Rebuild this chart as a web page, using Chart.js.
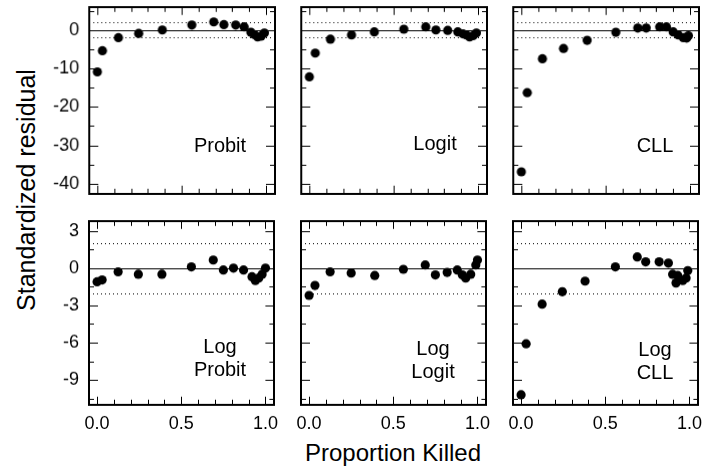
<!DOCTYPE html>
<html>
<head>
<meta charset="utf-8">
<script src="https://cdn.jsdelivr.net/npm/chart.js@4"></script>
<style>
body { margin: 0; background: #fff; width: 728px; height: 474px; position: relative; overflow: hidden; font-family: "Liberation Sans", Arial, sans-serif; }
canvas { position: absolute; }
.lbl { position: absolute; width: 80px; margin-left: -40px; font-size: 20px; line-height: 23px; text-align: center; color: #000; }
#ytitle { position: absolute; left: 26px; top: 190px; font-size: 25px; white-space: nowrap; transform: translate(-50%, -50%) rotate(-90deg); }
#xtitle { position: absolute; left: 393px; top: 453px; font-size: 24px; white-space: nowrap; transform: translate(-50%, -50%); }
</style>
</head>
<body>
<div id="ytitle">Standardized residual</div>
<div id="xtitle">Proportion Killed</div>
<script>
// residuals, one pair of arrays per model
const probitX = [0.0, 0.03, 0.125, 0.245, 0.385, 0.56, 0.69, 0.75, 0.82, 0.87, 0.91, 0.93, 0.95, 0.97, 0.99];
const probitY = [-10.9, -5.4, -2.0, -0.9, 0.0, 1.3, 2.1, 1.4, 1.3, 0.8, -0.6, -1.2, -1.8, -1.6, -0.8];

const logitX = [0.0, 0.035, 0.125, 0.25, 0.385, 0.56, 0.69, 0.75, 0.82, 0.88, 0.91, 0.93, 0.95, 0.97, 0.99];
const logitY = [-12.2, -6.0, -2.4, -1.3, -0.5, 0.2, 0.8, 0.0, -0.1, -0.5, -1.0, -1.3, -1.8, -1.5, -0.8];

const cllX = [0.0, 0.035, 0.125, 0.25, 0.39, 0.56, 0.69, 0.74, 0.82, 0.86, 0.90, 0.93, 0.96, 0.98, 0.99];
const cllY = [-36.9, -16.3, -7.5, -4.8, -2.7, -0.6, 0.5, 0.5, 0.8, 0.8, -0.5, -1.3, -2.0, -2.1, -1.5];

const logProbitX = [0.0, 0.03, 0.125, 0.245, 0.385, 0.56, 0.69, 0.75, 0.81, 0.87, 0.92, 0.94, 0.96, 0.98, 1.0];
const logProbitY = [-1.1, -0.95, -0.3, -0.5, -0.5, 0.1, 0.65, -0.15, 0.0, -0.15, -0.7, -1.0, -0.8, -0.5, 0.0];

const logLogitX = [0.0, 0.035, 0.125, 0.25, 0.39, 0.56, 0.69, 0.75, 0.82, 0.88, 0.91, 0.93, 0.96, 0.99, 1.0];
const logLogitY = [-2.2, -1.4, -0.3, -0.4, -0.6, -0.1, 0.25, -0.55, -0.35, -0.15, -0.55, -0.8, -0.5, 0.25, 0.65];

const logCllX = [0.0, 0.03, 0.125, 0.245, 0.38, 0.56, 0.69, 0.74, 0.82, 0.875, 0.90, 0.92, 0.93, 0.96, 0.98, 0.99];
const logCllY = [-10.2, -6.1, -2.9, -1.9, -1.05, 0.1, 0.9, 0.5, 0.5, 0.4, -0.5, -1.2, -0.6, -1.0, -0.8, -0.2];

const panelNames = ['Probit', 'Logit', 'CLL', 'Log\nProbit', 'Log\nLogit', 'Log\nCLL'];
const panelX = [probitX, logitX, cllX, logProbitX, logLogitX, logCllX];
const panelY = [probitY, logitY, cllY, logProbitY, logLogitY, logCllY];

const refSolid = [0];
const refDotted = [-2, 2];

// layout
const colLeft = [89, 301, 513];
const rowTop = [7, 221];
const panelW = 185;
const panelH = [186, 183];
const yRange = [[-42.6, 6.0], [-11.0, 3.8]];
const yStep = [5, 1.5];
const yLabelEvery = [10, 3];
const padL = 60, padT = 4, padR = 4;
const padB = [4, 34];
const labelPos = [[220, 145], [435, 143], [655, 145], [220, 358], [433, 360], [655, 361]];

const near = (v, m) => Math.abs(v / m - Math.round(v / m)) < 1e-6;
const crisp = p => Math.round(p) + 0.5;

function line(ctx, x1, y1, x2, y2) {
    ctx.beginPath();
    ctx.moveTo(x1, y1);
    ctx.lineTo(x2, y2);
    ctx.stroke();
}

const framePlugin = {
    id: 'frame',
    beforeDatasetsDraw(chart) {
        const { ctx, chartArea: a, scales: { y } } = chart;
        ctx.save();
        ctx.strokeStyle = '#000';
        ctx.lineWidth = 1;
        refSolid.forEach(v => { const py = crisp(y.getPixelForValue(v)); line(ctx, a.left, py, a.right, py); });
        ctx.setLineDash([1, 3]);
        refDotted.forEach(v => { const py = crisp(y.getPixelForValue(v)); line(ctx, a.left, py, a.right, py); });
        ctx.restore();
    },
    afterDraw(chart) {
        const { ctx, chartArea: a, scales: { x, y } } = chart;
        ctx.save();
        ctx.strokeStyle = '#000';
        ctx.lineWidth = 2;
        ctx.strokeRect(Math.round(a.left), Math.round(a.top), Math.round(a.right - a.left), Math.round(a.bottom - a.top));
        ctx.lineWidth = 1;
        x.ticks.forEach(t => {
            const px = crisp(x.getPixelForValue(t.value));
            const len = near(t.value, 0.5) ? 8 : 5;
            line(ctx, px, a.bottom, px, a.bottom - len);
            line(ctx, px, a.top, px, a.top + len);
        });
        y.ticks.forEach(t => {
            const py = crisp(y.getPixelForValue(t.value));
            const len = t.label ? 9 : 5;
            line(ctx, a.left, py, a.left + len, py);
            line(ctx, a.right, py, a.right - len, py);
        });
        ctx.restore();
    }
};

panelNames.forEach((name, i) => {
    const row = Math.floor(i / 3), col = i % 3;
    const cv = document.createElement('canvas');
    const w = padL + panelW + padR;
    const h = padT + panelH[row] + padB[row];
    cv.width = w; cv.height = h;
    cv.style.left = (colLeft[col] - padL) + 'px';
    cv.style.top = (rowTop[row] - padT) + 'px';
    document.body.appendChild(cv);

    const pts = panelX[i].map((v, k) => ({ x: v, y: panelY[i][k] }));

    const chart = new Chart(cv.getContext('2d'), {
        type: 'scatter',
        data: {
            datasets: [{
                data: pts,
                backgroundColor: '#000',
                borderWidth: 0,
                pointRadius: 4.6,
                pointHoverRadius: 4.6
            }]
        },
        options: {
            responsive: false,
            maintainAspectRatio: false,
            animation: false,
            events: [],
            layout: { padding: { top: padT, right: padR, left: 0, bottom: 0 } },
            plugins: { legend: { display: false }, tooltip: { enabled: false } },
            scales: {
                x: {
                    type: 'linear',
                    min: -0.048, max: 1.053,
                    grid: { display: false, drawTicks: false },
                    border: { display: false },
                    ticks: {
                        stepSize: 0.1,
                        autoSkip: false,
                        includeBounds: false,
                        maxRotation: 0,
                        padding: 8,
                        color: '#000',
                        font: { size: 18, family: '"Liberation Sans", Arial, sans-serif' },
                        callback: v => (row === 1 && near(v, 0.5)) ? v.toFixed(1) : ''
                    },
                    afterFit: s => { s.height = padB[row]; }
                },
                y: {
                    type: 'linear',
                    min: yRange[row][0], max: yRange[row][1],
                    grid: { display: false, drawTicks: false },
                    border: { display: false },
                    ticks: {
                        stepSize: yStep[row],
                        autoSkip: false,
                        includeBounds: false,
                        padding: 10,
                        color: '#000',
                        font: { size: 18, family: '"Liberation Sans", Arial, sans-serif' },
                        callback: v => (col === 0 && near(v, yLabelEvery[row])) ? String(Math.round(v)) : (near(v, yLabelEvery[row]) ? ' ' : '')
                    },
                    afterFit: s => { s.width = padL; }
                }
            }
        },
        plugins: [framePlugin]
    });

    // grow the canvas so the plot area has the panel's size, then place it
    const a = chart.chartArea;
    chart.resize(w + panelW - (a.right - a.left), h + panelH[row] - (a.bottom - a.top));
    const b = chart.chartArea;
    cv.style.left = (colLeft[col] - b.left) + 'px';
    cv.style.top = (rowTop[row] - b.top) + 'px';

    const lb = document.createElement('div');
    lb.className = 'lbl';
    lb.style.left = labelPos[i][0] + 'px';
    const lines = name.split('\n');
    lb.style.top = (labelPos[i][1] - lines.length * 11.5) + 'px';
    lb.innerHTML = lines.join('<br>');
    document.body.appendChild(lb);
});
</script>
</body>
</html>
